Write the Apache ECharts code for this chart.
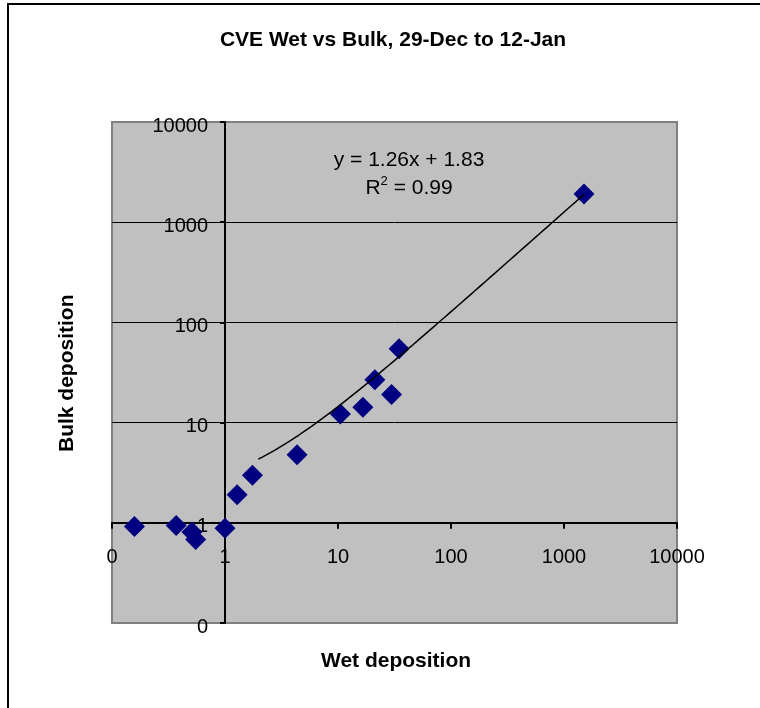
<!DOCTYPE html>
<html>
<head>
<meta charset="utf-8">
<script src="https://cdn.jsdelivr.net/npm/echarts@6/dist/echarts.min.js"></script>
<style>
html, body { margin: 0; padding: 0; background: #fff; }
#chart { width: 760px; height: 708px; }
</style>
</head>
<body>
<div id="chart"></div>
<script>
// ---- data ----
var wetDeposition  = [0.158, 0.37, 0.51, 0.55, 1.0, 1.28, 1.75, 4.34, 10.5, 16.6, 21.2, 29.8, 34.7, 1503];
var bulkDeposition = [0.92, 0.94, 0.81, 0.68, 0.88, 1.91, 2.98, 4.78, 12.2, 14.2, 26.7, 19.1, 54.7, 1907];
var xTickLabels = ['0', '1', '10', '100', '1000', '10000'];
var yTickLabels = ['0', '1', '10', '100', '1000', '10000'];
var trendSlope = 1.26;
var trendIntercept = 1.83;
var trendRSquared = 0.99;
var trendStartX = 1.97;

// ---- layout ----
var FONT = '"Liberation Sans", Arial, sans-serif';
var G = { left: 112, top: 122, right: 83, bottom: 85 };
var W = 760, H = 708;
var gw = W - G.left - G.right, gh = H - G.top - G.bottom;
var logMin = -1, logMax = 4;
// axes cross at value 1 (log 0)
var xOffset = -gh * (0 - logMin) / (logMax - logMin);
var yOffset = -gw * (0 - logMin) / (logMax - logMin);

// trendline sampled along the fitted equation
var xMaxData = Math.max.apply(null, wetDeposition);
var trend = [];
var nT = 80;
for (var i = 0; i <= nT; i++) {
  var lx = Math.log10(trendStartX) + (Math.log10(xMaxData) - Math.log10(trendStartX)) * i / nT;
  var xv = Math.pow(10, lx);
  trend.push([xv, trendSlope * xv + trendIntercept]);
}
var scatterData = wetDeposition.map(function (x, k) { return [x, bulkDeposition[k]]; });

function tickIndex(v) { return Math.round(Math.log10(v)) - logMin; }

var chart = echarts.init(document.getElementById('chart'), null, { renderer: 'canvas' });
chart.setOption({
  animation: false,
  backgroundColor: '#ffffff',
  grid: {
    left: G.left, top: G.top, right: G.right, bottom: G.bottom,
    show: true, backgroundColor: '#C0C0C0', borderColor: '#808080', borderWidth: 2,
    containLabel: false, outerBoundsMode: 'none'
  },
  xAxis: {
    type: 'log', logBase: 10, min: 0.1, max: 10000, splitNumber: 5,
    position: 'bottom', offset: xOffset,
    axisLine: { show: true, lineStyle: { color: '#000', width: 2 } },
    axisTick: { show: true, inside: false, length: 6, lineStyle: { color: '#000', width: 2 } },
    minorTick: { show: false },
    axisLabel: {
      show: true, margin: 25, color: '#000', fontSize: 20, fontFamily: FONT,
      formatter: function (v) { return xTickLabels[tickIndex(v)]; }
    },
    splitLine: { show: false }
  },
  yAxis: {
    type: 'log', logBase: 10, min: 0.1, max: 10000, splitNumber: 5,
    position: 'left', offset: yOffset,
    axisLine: { show: true, lineStyle: { color: '#000', width: 2 } },
    axisTick: { show: true, inside: false, length: 5, lineStyle: { color: '#000', width: 2 } },
    minorTick: { show: false },
    axisLabel: {
      show: true, margin: 17, color: '#000', fontSize: 20, fontFamily: FONT,
      formatter: function (v) { return '{t|' + yTickLabels[tickIndex(v)] + '}'; },
      rich: { t: { fontSize: 20, fontFamily: FONT, color: '#000', padding: [8, 0, 0, 0] } }
    },
    splitLine: { show: true, showMinLine: false, showMaxLine: false, lineStyle: { color: '#000', width: 1 } }
  },
  series: [
    {
      type: 'scatter', name: 'Bulk vs Wet', data: scatterData,
      symbol: 'diamond', symbolSize: 21,
      itemStyle: { color: '#000080', opacity: 1 }, z: 3
    },
    {
      type: 'line', name: 'Linear trend', data: trend,
      showSymbol: false, symbol: 'none', smooth: false,
      lineStyle: { color: '#000', width: 1.5 }, z: 4, silent: true
    }
  ],
  graphic: [
    {
      type: 'rect', z: 100, silent: true,
      shape: { x: 8, y: 4, width: 900, height: 900 },
      style: { fill: 'none', stroke: '#000', lineWidth: 2 }
    },
    {
      type: 'text', z: 100, x: 393, y: 40,
      style: { text: 'CVE Wet vs Bulk, 29-Dec to 12-Jan', font: 'bold 21px ' + FONT, fill: '#000', textAlign: 'center', textVerticalAlign: 'middle' }
    },
    {
      type: 'text', z: 100, x: 396, y: 661,
      style: { text: 'Wet deposition', font: 'bold 21px ' + FONT, fill: '#000', textAlign: 'center', textVerticalAlign: 'middle' }
    },
    {
      type: 'text', z: 100, x: 67, y: 452, rotation: Math.PI / 2,
      style: { text: 'Bulk deposition', font: 'bold 21px ' + FONT, fill: '#000', textAlign: 'left', textVerticalAlign: 'middle' }
    },
    {
      type: 'text', z: 100, x: 409, y: 160,
      style: { text: 'y = ' + trendSlope.toFixed(2) + 'x + ' + trendIntercept.toFixed(2), font: '21px ' + FONT, fill: '#000', textAlign: 'center', textVerticalAlign: 'middle' }
    },
    {
      type: 'text', z: 100, x: 409, y: 188,
      style: {
        text: 'R{sup|2} = ' + trendRSquared.toFixed(2),
        font: '21px ' + FONT, fill: '#000', textAlign: 'center', textVerticalAlign: 'middle',
        rich: { sup: { fontSize: 13, fontFamily: FONT, verticalAlign: 'top', lineHeight: 26, fill: '#000' } }
      }
    }
  ]
});
</script>
</body>
</html>
